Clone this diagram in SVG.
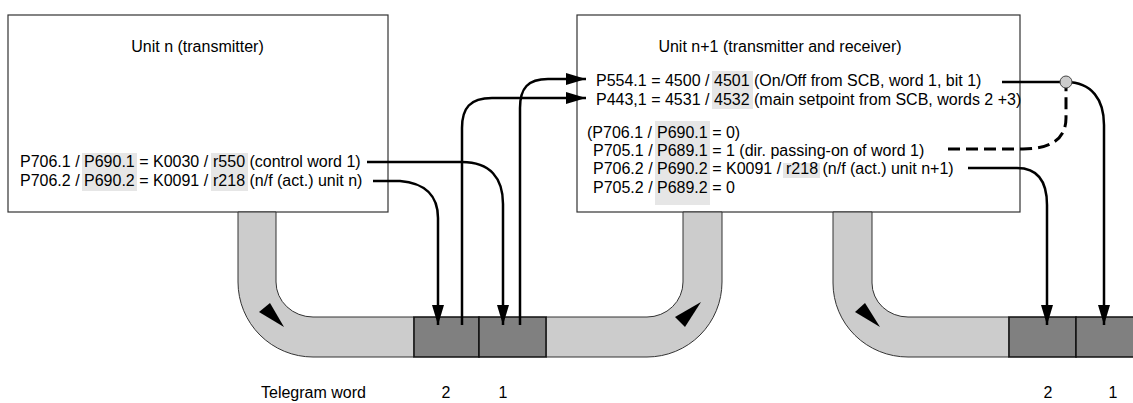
<svg xmlns="http://www.w3.org/2000/svg" width="1133" height="403" viewBox="0 0 1133 403">
<style>
text{font-family:"Liberation Sans",Arial,sans-serif;font-size:16px;fill:#000}
.box{fill:#fff;stroke:#333;stroke-width:1.2}
.hl{fill:#e6e6e6}
.tube{fill:#cccccc;stroke:#333;stroke-width:1}
.cell{fill:#808080;stroke:#111;stroke-width:1.5}
.con{fill:none;stroke:#000;stroke-width:2.5}
.dash{fill:none;stroke:#000;stroke-width:3;stroke-dasharray:12 6}
</style>
<defs>
<marker id="ah" viewBox="0 0 20 12" refX="20" refY="6" markerWidth="20" markerHeight="12" markerUnits="userSpaceOnUse" orient="auto">
<path d="M0,0 L20,6 L0,12 z" fill="#000"/>
</marker>
</defs>
<g id="unit-n">
<rect class="box" x="8" y="15" width="380" height="197"/>
<rect class="hl" x="82" y="153" width="55" height="38"/>
<rect class="hl" x="211" y="153" width="37" height="38"/>
<text x="197.5" y="52" text-anchor="middle">Unit n (transmitter)</text>
<text x="20" y="167">P706.1 / P690.1 = K0030 / <tspan x="213">r550</tspan> (control word 1)</text>
<text x="20" y="186">P706.2 / P690.2 = K0091 / <tspan x="213">r218</tspan> (n/f (act.) unit n)</text>
</g>
<g id="unit-n1">
<rect class="box" x="577" y="15" width="443" height="197"/>
<rect class="hl" x="712" y="71" width="41" height="38"/>
<rect class="hl" x="655" y="121" width="55" height="84"/>
<rect class="hl" x="783" y="163" width="37" height="15"/>
<text x="780" y="52" text-anchor="middle">Unit n+1 (transmitter and receiver)</text>
<text x="596" y="86">P554.1 = 4500 / <tspan x="714">4501</tspan> (On/Off from SCB, word 1, bit 1)</text>
<text x="596" y="105">P443,1 = 4531 / <tspan x="714">4532</tspan> (main setpoint from SCB, words 2 +3)</text>
<text x="587" y="138">(P706.1 / <tspan x="657">P690.1</tspan> = 0)</text>
<text x="593" y="156">P705.1 / <tspan x="657">P689.1</tspan> = 1 (dir. passing-on of word 1)</text>
<text x="593" y="174">P706.2 / <tspan x="657">P690.2</tspan> = K0091 / <tspan x="786">r218</tspan> (n/f (act.) unit n+1)</text>
<text x="593" y="192.5">P705.2 / <tspan x="657">P689.2</tspan> = 0</text>
</g>
<g id="telegram">
<path class="tube" d="M238,212 V282 A75,75 0 0 0 313,357 H414 V317 H313 A37,35 0 0 1 276,282 V212 Z"/>
<path class="tube" d="M546,317 H647 A36,35 0 0 0 683,282 V212 H722 V282 A75,75 0 0 1 647,357 H546 Z"/>
<path class="tube" d="M833,212 V283 A75,74 0 0 0 908,357 H1009 V317 H908 A36,34 0 0 1 872,283 V212 Z"/>
<rect class="cell" x="414" y="317" width="65" height="40"/>
<rect class="cell" x="479" y="317" width="67" height="40"/>
<rect class="cell" x="1009" y="317" width="67" height="40"/>
<rect class="cell" x="1076" y="317" width="60" height="40"/>
<polygon points="259,312 270,303 284,327" fill="#000"/>
<polygon points="675,317 685,327 701,302" fill="#000"/>
<polygon points="855,312 865,303 880,327" fill="#000"/>
</g>
<g id="connectors">
<path class="con" d="M367,162 H462 C490,162 503,178 503,204 V325" marker-end="url(#ah)"/>
<path class="con" d="M373,181 H400 C425,183 438,196 438,218 V325" marker-end="url(#ah)"/>
<path class="con" d="M462,325 V128 C462,108 470,98 492,98 H586" marker-end="url(#ah)"/>
<path class="con" d="M520,325 V108 C520,88 528,79 548,79 H586" marker-end="url(#ah)"/>
<path class="con" d="M1002,82 H1066 C1092,82 1104,100 1104,125 V325" marker-end="url(#ah)"/>
<path class="dash" d="M948,149 H1023 C1052,149 1066,138 1066,118 V88"/>
<path class="con" d="M968,168 H1017 C1038,168 1047,182 1047,205 V325" marker-end="url(#ah)"/>
<circle cx="1066" cy="82" r="6" fill="#ccc" stroke="#444" stroke-width="1"/>
</g>
<g id="labels">
<text x="261" y="398">Telegram word</text>
<text x="446" y="398" text-anchor="middle">2</text>
<text x="503" y="398" text-anchor="middle">1</text>
<text x="1048" y="398" text-anchor="middle">2</text>
<text x="1113" y="398" text-anchor="middle">1</text>
</g>
</svg>
